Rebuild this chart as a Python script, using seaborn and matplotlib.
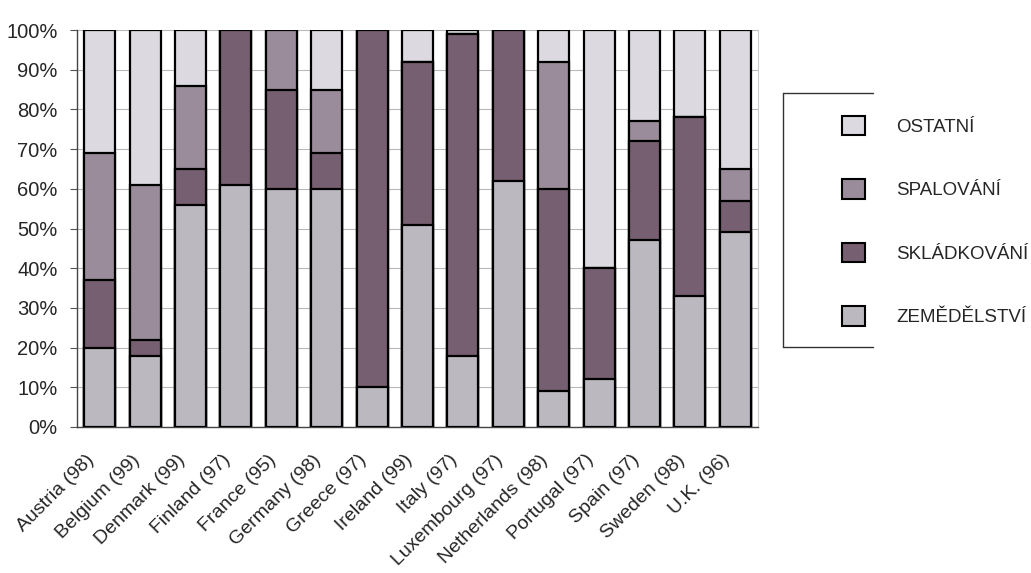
import matplotlib
matplotlib.use("Agg")
import matplotlib.pyplot as plt
import matplotlib.transforms as mtransforms
from matplotlib.patches import Patch
from matplotlib.lines import Line2D
import numpy as np
import pandas as pd
import seaborn as sns

countries = ["Austria (98)", "Belgium (99)", "Denmark (99)", "Finland (97)", "France (95)",
             "Germany (98)", "Greece (97)", "Ireland (99)", "Italy (97)", "Luxembourg (97)",
             "Netherlands (98)", "Portugal (97)", "Spain (97)", "Sweden (98)", "U.K. (96)"]

# shares in %, bottom to top
zemedelstvi = [20, 18, 56, 61, 60, 60, 10, 51, 18, 62, 9, 12, 47, 33, 49]
skladkovani = [17, 4, 9, 39, 25, 9, 90, 41, 81, 38, 51, 28, 25, 45, 8]
spalovani = [32, 39, 21, 0, 15, 16, 0, 0, 0, 0, 32, 0, 5, 0, 8]
ostatni = [31, 39, 14, 0, 0, 15, 0, 8, 1, 0, 8, 60, 23, 22, 35]

series = ["ZEMĚDĚLSTVÍ", "SKLÁDKOVÁNÍ", "SPALOVÁNÍ", "OSTATNÍ"]
colors = {"ZEMĚDĚLSTVÍ": "#bcb8c0", "SKLÁDKOVÁNÍ": "#765f70",
          "SPALOVÁNÍ": "#9b8c9b", "OSTATNÍ": "#dcdae0"}

df = pd.DataFrame({"country": countries, "ZEMĚDĚLSTVÍ": zemedelstvi,
                   "SKLÁDKOVÁNÍ": skladkovani, "SPALOVÁNÍ": spalovani, "OSTATNÍ": ostatni})
cum = df[series].cumsum(axis=1)

sns.set_style("white")
plt.rcParams["font.family"] = ["Liberation Sans", "DejaVu Sans"]

fig = plt.figure(figsize=(10.31, 5.73), dpi=100)
ax = fig.add_axes([0.0747, 0.2548, 0.6605, 0.6928])

# stacked bars: draw cumulative totals from the top segment down
for s in reversed(series):
    sns.barplot(x=df["country"], y=cum[s], color=colors[s], width=0.68,
                edgecolor="black", linewidth=1.6, saturation=1, ax=ax, zorder=3)

ax.set_ylim(0, 100)
ax.set_xlim(-0.5, len(countries) - 0.5)
ax.set_yticks(np.arange(0, 101, 10))
ax.set_yticklabels([f"{v}%" for v in range(0, 101, 10)], fontsize=14.5)
ax.yaxis.grid(True, color="#b8b8b8", linewidth=0.8, zorder=0)
ax.set_axisbelow(True)
ax.set_xlabel("")
ax.set_ylabel("")
ax.set_xticks(range(len(countries)))
ax.set_xticklabels(countries, rotation=45, ha="right", rotation_mode="anchor", fontsize=14)
ax.tick_params(axis="x", length=0, pad=6)
shift = mtransforms.ScaledTranslation(-14 / 100, -16 / 100, fig.dpi_scale_trans)
for lab in ax.get_xticklabels():
    lab.set_transform(lab.get_transform() + shift)
ax.set_xticks(np.arange(-0.5, len(countries), 1), minor=True)
ax.tick_params(axis="x", which="minor", length=4, direction="out", color="#555555")
ax.tick_params(axis="y", length=5, direction="out", left=True, color="#555555", pad=9)
for side in ["left", "bottom"]:
    ax.spines[side].set_color("#444444")
    ax.spines[side].set_linewidth(1.0)
ax.spines["top"].set_visible(False)
ax.spines["right"].set_color("#cccccc")
ax.spines["right"].set_linewidth(0.8)

# legend, labels sitting outside the open box
handles = [Patch(facecolor=colors[s], edgecolor="black", linewidth=1.5) for s in reversed(series)]
fig.legend(handles, list(reversed(series)), loc="upper left",
           bbox_to_anchor=(842 / 1031, 1 - 116 / 573), frameon=False,
           handlelength=1.2, handleheight=1.2, handletextpad=1.7,
           labelspacing=2.32, fontsize=13.5, borderpad=0, borderaxespad=0)

x0, x1 = 783 / 1031, 873 / 1031
y0, y1 = 1 - 347 / 573, 1 - 93 / 573
for xs, ys in [([x0, x1], [y1, y1]), ([x0, x1], [y0, y0]), ([x0, x0], [y0, y1])]:
    fig.add_artist(Line2D(xs, ys, transform=fig.transFigure, color="#333333", linewidth=1.0))

fig.savefig("out.png", dpi=100)
